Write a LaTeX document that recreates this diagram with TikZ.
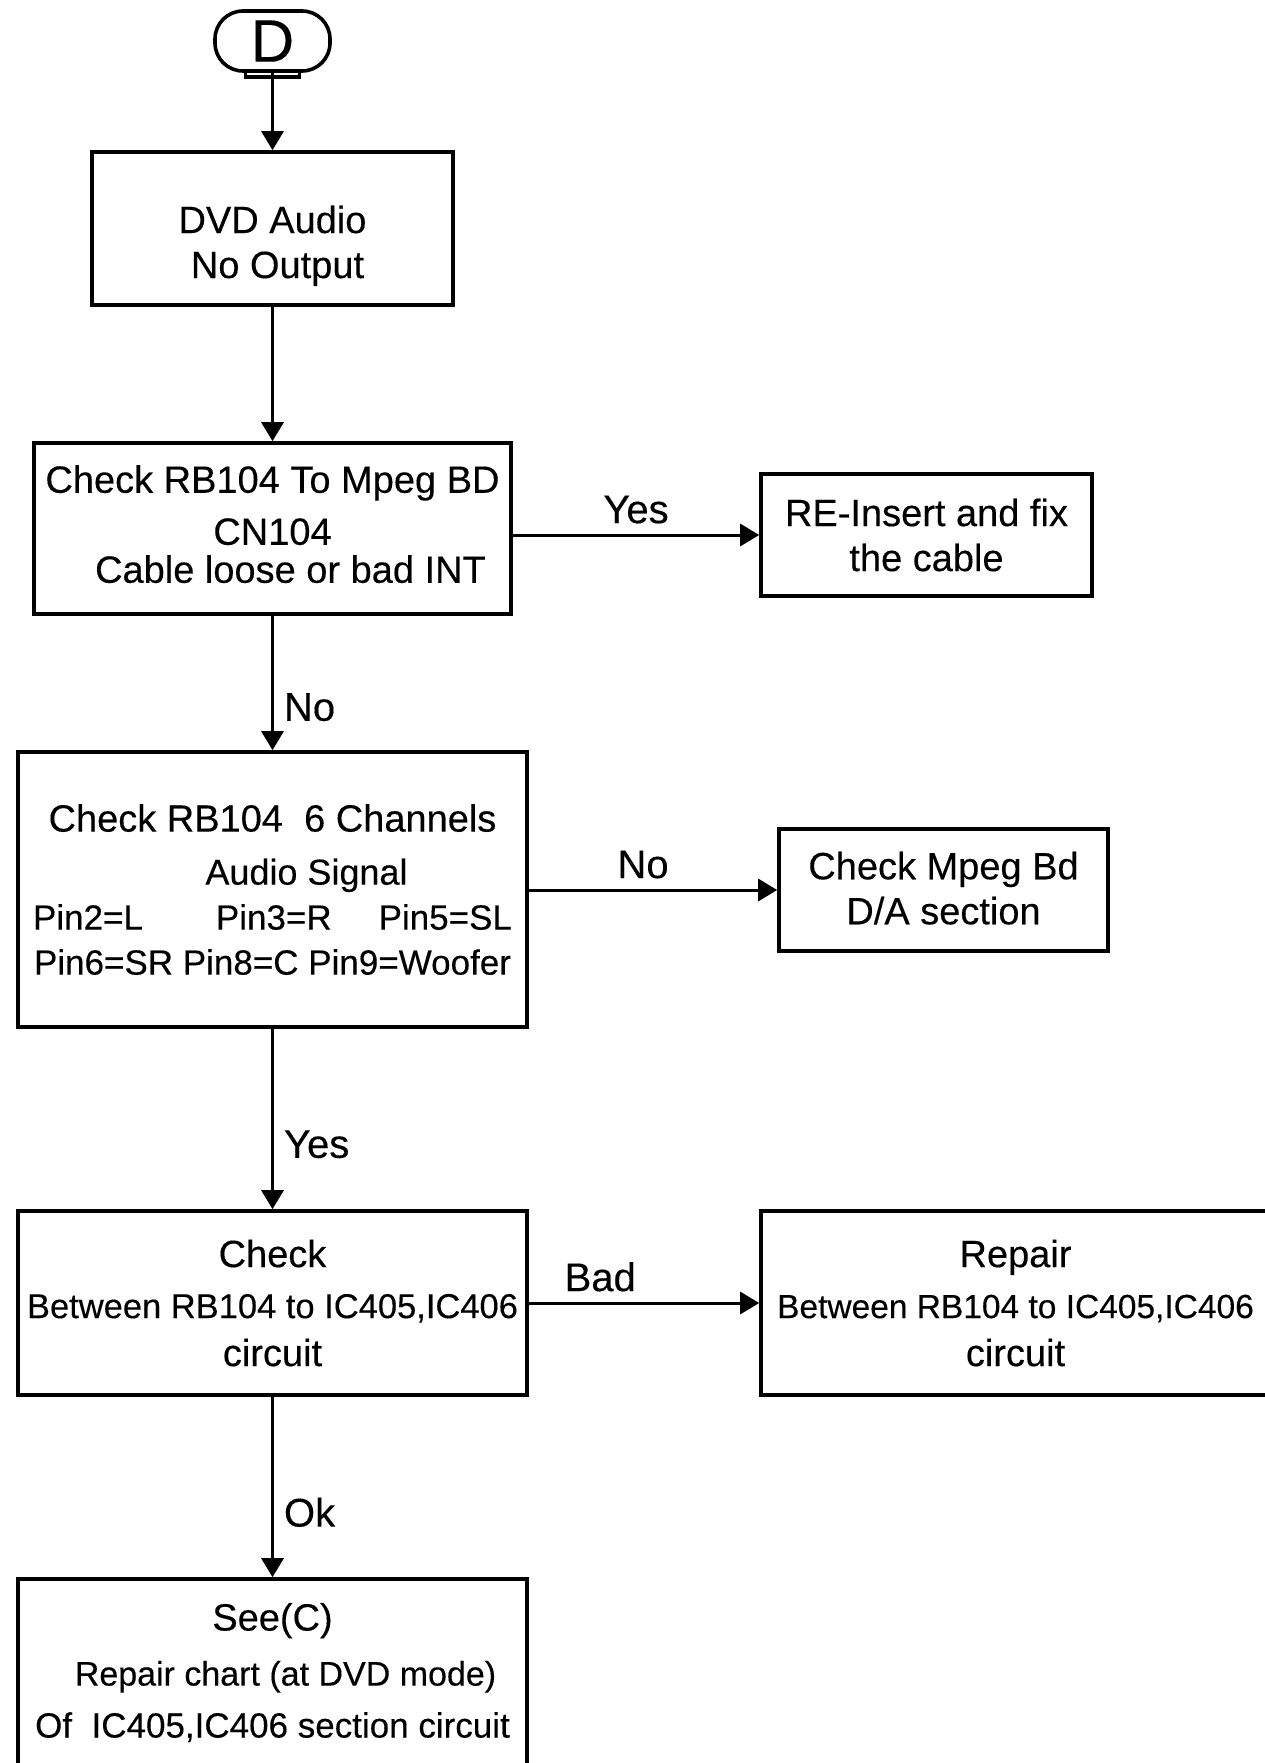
\documentclass[tikz,border=0pt]{standalone}
\usepackage{fontspec}
\setmainfont{Liberation Sans}[FakeBold=0.3]
\usetikzlibrary{calc, arrows.meta, positioning}

\begin{document}
\begin{tikzpicture}[auto, x=1pt, y=1pt, line width=3pt, >={Triangle[length=19pt, width=22pt]}]
				\tikzstyle{box} = [draw=black, line width=3.6pt, rectangle, inner sep=0pt, align=center, font=\fontsize{38}{45}\selectfont]
				\tikzstyle{term} = [draw=black, line width=3.6pt, rectangle, rounded corners=28pt, minimum width=115pt, minimum height=60pt, inner sep=0pt, font=\fontsize{60}{60}\selectfont]
				\tikzstyle{lbl} = [draw=none, inner sep=10pt, font=\fontsize{40}{48}\selectfont]
				
				\useasboundingbox (0,0) rectangle (1265,-1763);
				\clip (0,0) rectangle (1265,-1763);
				
				\node[term] at (272.5, -41) (start) {D};
				\draw[line width=3.6pt] ([xshift=-27pt]start.south) -- ++(0,-4) -- ++(54,0) -- ++(0,4);
				
				\node[box, minimum width=361pt, minimum height=153pt] at (272.5, -228.5) (noout)
					{\rule{0pt}{62pt}DVD Audio\\ \hspace*{10pt}No Output};
				\node[box, minimum width=477pt, minimum height=171pt] at (272.5, -528.5) (cable)
					{Check RB104 To Mpeg BD\\[7pt] CN104\\[-7pt] \hspace*{36pt}Cable loose or bad INT\rule[-9pt]{0pt}{9pt}};
				\node[box, minimum width=331pt, minimum height=122pt] at (926.5, -535) (fix)
					{RE-Insert and fix\\ the cable};
				\node[box, minimum width=509pt, minimum height=275pt] at (272.5, -889.5) (chan)
					{Check RB104~~6 Channels\\[8pt]
					{\fontsize{36}{45}\selectfont\hspace*{68pt}Audio Signal}\\
					{\fontsize{35}{45}\selectfont\makebox[479pt]{Pin2=L\hspace{73pt}Pin3=R\hfill Pin5=SL}}\\
					{\fontsize{35}{45}\selectfont Pin6=SR Pin8=C Pin9=Woofer}};
				\node[box, minimum width=329pt, minimum height=122pt] at (943.5, -890) (mpeg)
					{Check Mpeg Bd\\ D/A section\rule[-4pt]{0pt}{4pt}};
				\node[box, minimum width=509pt, minimum height=184pt] at (272.5, -1303) (chk)
					{Check\\[6pt]
					{\fontsize{34.5}{45}\selectfont Between RB104 to IC405,IC406}\\[3pt]
					circuit};
				\node[box, minimum width=509pt, minimum height=184pt] at (1015.5, -1303) (rep)
					{Repair\\[6pt]
					{\fontsize{33.5}{45}\selectfont Between RB104 to IC405,IC406}\\[3pt]
					circuit};
				\node[box, minimum width=509pt, minimum height=187pt] at (272.5, -1672.5) (seec)
					{See(C)\\[10pt]
					{\fontsize{34}{45}\selectfont\hspace*{26pt}Repair chart (at DVD mode)}\\[7pt]
					{\fontsize{35}{45}\selectfont Of~~IC405,IC406 section circuit}};
				
				\path[->]
				(start)					edge								(noout)
				(noout)					edge								(cable)
				(cable.east |- fix.west)	edge	node[lbl] {Yes}				(fix.west)
				(cable)					edge	node[lbl, pos=0.68] {No}	(chan)
				(chan.east |- mpeg.west)	edge	node[lbl, pos=0.46] {No}	(mpeg.west)
				(chan)					edge	node[lbl, pos=0.64] {Yes}	(chk)
				(chk)					edge	node[lbl, pos=0.31] {Bad}	(rep)
				(chk)					edge	node[lbl, pos=0.64] {Ok}	(seec);
			\end{tikzpicture}
\end{document}
